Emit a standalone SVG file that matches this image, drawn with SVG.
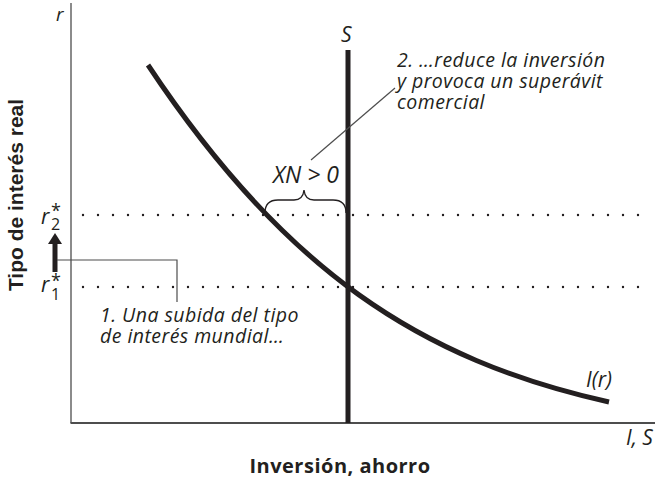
<svg xmlns="http://www.w3.org/2000/svg" width="657" height="486" viewBox="0 0 657 486">
<style>
.lbl{font-family:"Open Sans","Liberation Sans",sans-serif;font-style:italic;fill:#231f20}
.up{font-style:normal}
.note{font-size:19.5px;letter-spacing:0.45px}
.ax{stroke:#4d4d4d;fill:none}
.dot{stroke:#231f20;stroke-width:2.4;stroke-linecap:round;stroke-dasharray:0 15;fill:none}
.thin{stroke:#4d4d4d;stroke-width:1.2;fill:none}
</style>
<rect width="657" height="486" fill="#fff"/>
<g id="axes">
<line class="ax" x1="71" y1="3" x2="71" y2="423" stroke-width="1.3"/>
<line class="ax" x1="70.5" y1="423" x2="655" y2="423" stroke-width="2"/>
<text class="lbl" x="56" y="21" font-size="19">r</text>
<text class="lbl" x="626" y="445" font-size="21">I, S</text>
<text x="340" y="473" text-anchor="middle" font-family="'Open Sans','Liberation Sans',sans-serif" font-weight="bold" font-size="20" letter-spacing="0.5" fill="#231f20">Inversión, ahorro</text>
<text transform="translate(23,195) rotate(-90)" text-anchor="middle" font-family="'Liberation Sans',Arial,sans-serif" font-weight="bold" font-size="21" fill="#231f20">Tipo de interés real</text>
</g>
<g id="levels">
<line class="dot" x1="83" y1="215" x2="650" y2="215"/>
<line class="dot" x1="83" y1="287" x2="650" y2="287"/>
<text class="lbl" font-size="21"><tspan x="41" y="224">r</tspan><tspan class="up" x="51" y="217" font-size="18">*</tspan><tspan class="up" x="51" y="230" font-size="16">2</tspan></text>
<text class="lbl" font-size="21"><tspan x="41" y="292">r</tspan><tspan class="up" x="51" y="287" font-size="18">*</tspan><tspan class="up" x="51" y="300" font-size="16">1</tspan></text>
</g>
<g id="S-curve">
<line x1="348" y1="50" x2="348" y2="423" stroke="#231f20" stroke-width="5"/>
<text class="lbl" x="341" y="42" font-size="21">S</text>
</g>
<g id="I-curve">
<path d="M148,65 C284,270 420,360 609,402" stroke="#231f20" stroke-width="5" fill="none"/>
<text class="lbl" x="586" y="387" font-size="21">I(r)</text>
</g>
<g id="connectors">
<path d="M55,272 V243" stroke="#231f20" stroke-width="5" fill="none"/>
<polygon points="55,233 48,244 62,244" fill="#231f20"/>
<polyline class="thin" points="57,260 177,260 177,302"/>
<line class="thin" x1="311" y1="160" x2="395" y2="88"/>
<path d="M265,213 Q265,200 278,200 H294 Q303,200 304,190 Q305,200 314,200 H333 Q346,200 346,213" stroke="#231f20" stroke-width="1.3" fill="none"/>
</g>
<g id="notes">
<text class="lbl note"><tspan x="397" y="67">2. …reduce la inversión</tspan><tspan x="397" y="88">y provoca un superávit</tspan><tspan x="397" y="108.5">comercial</tspan></text>
<text class="lbl" x="306" y="183" font-size="23" text-anchor="middle">XN &gt; 0</text>
<text class="lbl note"><tspan x="100" y="322">1. Una subida del tipo</tspan><tspan x="100" y="343">de interés mundial…</tspan></text>
</g>
</svg>
